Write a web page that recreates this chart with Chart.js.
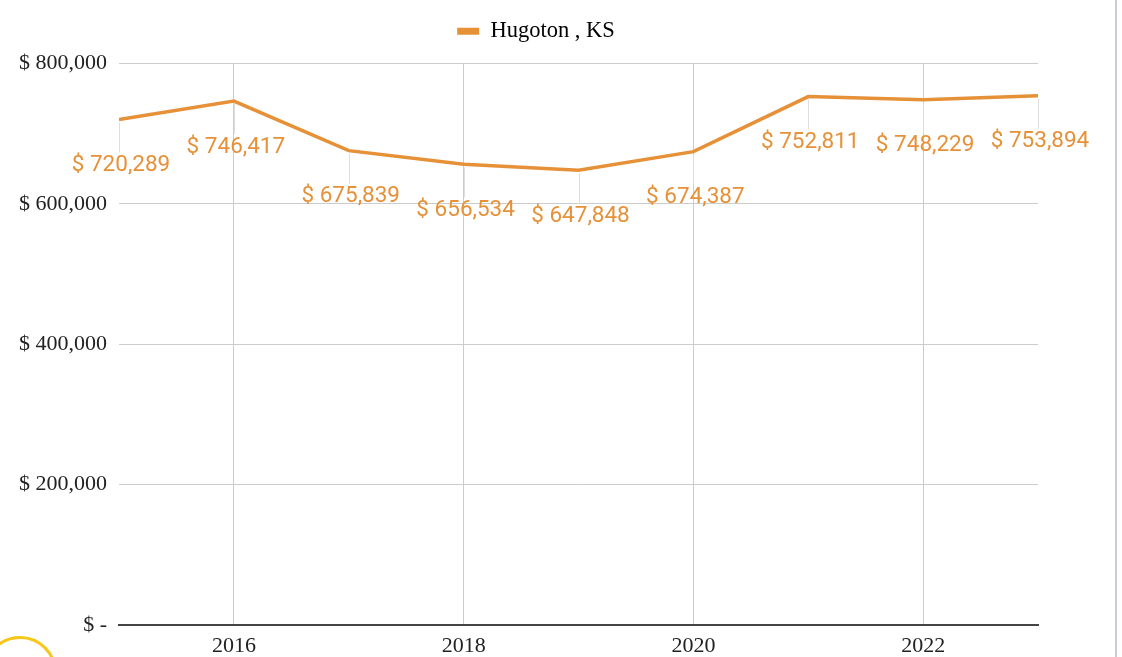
<!DOCTYPE html>
<html>
<head>
<meta charset="utf-8">
<script src="https://cdn.jsdelivr.net/npm/chart.js@4.4.1/dist/chart.umd.min.js"></script>
<style>
  html, body { margin: 0; padding: 0; background: #fff; overflow: hidden; }
  #wrap { position: relative; width: 1122px; height: 657px; }
  #frame { position: absolute; left: 1115px; top: 0; width: 2px; height: 657px; background: #c9ccd3; }
  #ring { position: absolute; left: -17px; top: 636px; width: 74px; height: 74px; border: 3px solid #f6c619; border-radius: 50%; box-sizing: border-box; }
</style>
</head>
<body>
<div id="wrap">
  <canvas id="priceChart" width="1122" height="657"></canvas>
  <div id="frame"></div>
  <div id="ring"></div>
</div>
<script>
    // data
    var years  = [2015, 2016, 2017, 2018, 2019, 2020, 2021, 2022, 2023];
    var prices = [720289, 746417, 675839, 656534, 647848, 674387, 752811, 748229, 753894];
    var seriesName = "Hugoton , KS";
    var yTicks = [0, 200000, 400000, 600000, 800000];

    var orange = "rgb(230,145,56)";
    var serif = "'Liberation Serif', 'Times New Roman', serif";

    function money(v) {
        if (v === 0) return "$ -";
        return "$ " + v.toLocaleString("en-US");
    }

    var points = years.map(function (y, i) { return { x: y, y: prices[i] }; });

    // value labels under each point, with a thin leader line
    var valueLabels = {
        id: "valueLabels",
        afterDatasetsDraw: function (chart) {
            var ctx = chart.ctx;
            var meta = chart.getDatasetMeta(0);
            ctx.save();
            meta.data.forEach(function (pt, i) {
                ctx.strokeStyle = "#dedede";
                ctx.lineWidth = 1;
                ctx.beginPath();
                ctx.moveTo(Math.round(pt.x) + 0.5, pt.y + 3);
                ctx.lineTo(Math.round(pt.x) + 0.5, pt.y + 33);
                ctx.stroke();
                ctx.fillStyle = orange;
                ctx.font = "22.5px Roboto";
                ctx.textAlign = "center";
                ctx.textBaseline = "middle";
                ctx.fillText(money(prices[i]), pt.x + 2, pt.y + 46);
            });
            ctx.restore();
        }
    };

    var chart = new Chart(document.getElementById("priceChart"), {
        type: "line",
        data: {
            datasets: [{
                label: seriesName,
                data: points,
                borderColor: orange,
                backgroundColor: orange,
                borderWidth: 3.5,
                pointRadius: 0,
                tension: 0
            }]
        },
        options: {
            responsive: false,
            animation: false,
            layout: { padding: { top: 10, right: 84, left: 0, bottom: 0 } },
            plugins: {
                legend: {
                    labels: {
                        font: { family: serif, size: 22.5 },
                        color: "#222",
                        boxWidth: 22,
                        boxHeight: 7,
                        padding: 10,
                        generateLabels: function (c) {
                            return [{
                                text: seriesName,
                                fillStyle: orange,
                                strokeStyle: orange,
                                lineWidth: 0,
                                hidden: false,
                                datasetIndex: 0
                            }];
                        }
                    }
                },
                tooltip: { enabled: false }
            },
            scales: {
                x: {
                    type: "linear",
                    min: 2015,
                    max: 2023,
                    afterFit: function (s) { s.height = 32; },
                    ticks: {
                        stepSize: 1,
                        padding: 8,
                        color: "#222",
                        font: { family: serif, size: 22 },
                        maxRotation: 0,
                        autoSkip: false,
                        callback: function (v) { return (v % 2 === 0) ? String(v) : ""; }
                    },
                    grid: {
                        drawTicks: false,
                        color: function (c) { return (c.tick && c.tick.value % 2 === 0) ? "#cccccc" : "rgba(0,0,0,0)"; }
                    },
                    border: { display: true, color: "#444", width: 2 }
                },
                y: {
                    min: 0,
                    max: 800000,
                    afterFit: function (s) { s.width = 119; },
                    afterBuildTicks: function (s) { s.ticks = yTicks.map(function (v) { return { value: v }; }); },
                    ticks: {
                        padding: 12,
                        color: "#222",
                        font: { family: serif, size: 22 },
                        callback: function (v) { return money(v); }
                    },
                    grid: {
                        drawTicks: false,
                        color: function (c) { return (c.tick && c.tick.value === 0) ? "rgba(0,0,0,0)" : "#cccccc"; }
                    },
                    border: { display: false }
                }
            }
        },
        plugins: [valueLabels]
    });

    // leave more room between the legend and the plot, and nudge it right
    var legendFit = chart.legend.fit;
    chart.legend.fit = function () {
        legendFit.call(this);
        this.height += 11;
    };
    var legendDraw = chart.legend.draw;
    chart.legend.draw = function () {
        this.ctx.save();
        this.ctx.translate(17, 0);
        legendDraw.call(this);
        this.ctx.restore();
    };
    chart.update();
</script>
</body>
</html>
